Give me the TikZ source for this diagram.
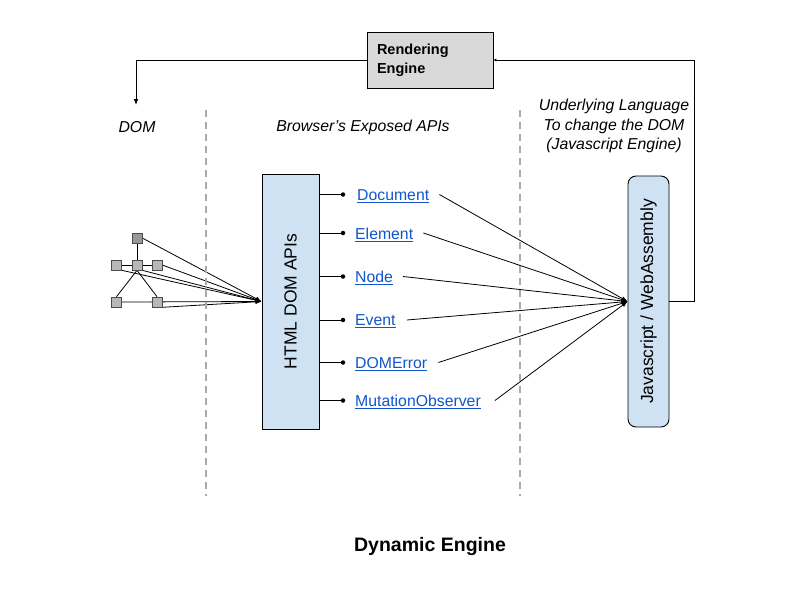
\documentclass[tikz,border=0pt]{standalone}
\usepackage{fontspec}
\setmainfont{Liberation Sans}
\usetikzlibrary{arrows.meta,backgrounds,calc}
\definecolor{boxblue}{HTML}{CFE2F3}
\definecolor{linkblue}{HTML}{1155CC}
\definecolor{regray}{HTML}{D9D9D9}
\definecolor{sqgray}{HTML}{B7B7B7}
\definecolor{sqdark}{HTML}{999999}
\definecolor{dashgray}{HTML}{AAAAAA}
\tikzset{
  tip/.style={-{Latex[length=6pt,width=4.5pt]}},
  smalltip/.style={-{Latex[length=3pt,width=3pt]}},
  apibox/.style={draw=black, line width=0.9pt, fill=boxblue, minimum width=57, minimum height=255, inner sep=0},
  jsbox/.style={draw=black, line width=0.9pt, fill=boxblue, rounded corners=8, minimum width=41, minimum height=251, inner sep=0},
  rebox/.style={draw=black, line width=0.9pt, fill=regray, minimum width=126, minimum height=56, inner sep=0,
    text width=106, align=left, font=\fontsize{14.5}{19}\selectfont\bfseries},
  sq/.style={draw=black!70, line width=0.6pt, fill=sqgray, minimum size=10, inner sep=0},
  sqd/.style={sq, fill=sqdark},
  lnk/.style={anchor=west, inner sep=0, text=linkblue, font=\fontsize{15.8}{18}\selectfont},
  lbl/.style={inner sep=0, font=\fontsize{15.8}{19.5}\selectfont\itshape, align=center},
  sep/.style={dashgray, line width=2pt, dash pattern=on 7pt off 5pt},
  bul/.style={circle, fill=black, inner sep=0, minimum size=4.5},
  conn/.style={line width=0.8pt},
}
\begin{document}
\begin{tikzpicture}[x=1pt,y=-1pt]
\useasboundingbox (0,0) rectangle (800,600);

% separators
\draw[sep] (206,110) -- (206,496);
\draw[sep] (520,110) -- (520,496);

% labels
\node[lbl] (domlbl) at (137,127) {DOM};
\node[lbl] (apilbl) at (363,127) {Browser’s Exposed APIs};
\node[lbl] (langlbl) at (614,126) {Underlying Language\\To change the DOM\\(Javascript Engine)};
\node[inner sep=0, font=\fontsize{19.5}{22}\selectfont\bfseries] (title) at (430,546) {Dynamic Engine};

% main boxes
\node[rebox] (re) at (430,60) {Rendering\\Engine};
\node[apibox] (html) at (290.5,301.5) {};
\node[rotate=90, inner sep=0, font=\fontsize{17.5}{20}\selectfont] (htmltxt) at (html.center) {HTML DOM APIs};
\node[jsbox] (js) at (648.5,301.5) {};
\node[rotate=90, inner sep=0, font=\fontsize{17.5}{20}\selectfont] (jstxt) at (js.center) {Javascript / WebAssembly};

% DOM tree
\node[sqd] (t0) at (137,238) {};
\node[sq] (t1) at (116.5,265) {};
\node[sq] (t2) at (137,265) {};
\node[sq] (t3) at (157,265) {};
\node[sq] (t4) at (116.5,302) {};
\node[sq] (t5) at (157,302) {};

\begin{scope}[on background layer]
  \draw[conn] (t0) -- (t2);
  \draw[conn] (t1) -- (t2) -- (t3);
  \draw[conn] (t2.south) -- (t4.north);
  \draw[conn] (t2.south) -- (t5.north);
  \draw[conn,tip] (t0.east) -- (html.west);
  \draw[conn,tip] (t3.east) -- (html.west);
  \draw[conn,tip] (t1.south east) -- (html.west);
  \draw[conn,tip] (t2.south east) -- (html.west);
  \draw[conn,tip] (t4.east) -- (html.west);
  \draw[conn,tip] (t5.south east) -- (html.west);
\end{scope}

% API links
\node[lnk] (l1) at (357,196) {\underline{Document}};
\node[lnk] (l2) at (355,234.5) {\underline{Element}};
\node[lnk] (l3) at (355,278) {\underline{Node}};
\node[lnk] (l4) at (355,321.5) {\underline{Event}};
\node[lnk] (l5) at (355,364) {\underline{DOMError}};
\node[lnk] (l6) at (355,402) {\underline{MutationObserver}};

\foreach \i/\y in {1/194.5,2/233,3/276.5,4/320,5/362.5,6/400.5} {
  \node[bul] (b\i) at (343,\y) {};
  \draw[conn] (html.east |- b\i) -- (b\i.center);
}

\draw[conn,tip] ([xshift=10,yshift=1.5]l1.east) -- (js.west);
\draw[conn,tip] ([xshift=10,yshift=1.5]l2.east) -- (js.west);
\draw[conn,tip] ([xshift=10,yshift=1.5]l3.east) -- (js.west);
\draw[conn,tip] ([xshift=11,yshift=1.5]l4.east) -- (js.west);
\draw[conn,tip] ([xshift=11,yshift=1.5]l5.east) -- (js.west);
\draw[conn,tip] ([xshift=14,yshift=1.5]l6.east) -- (js.west);

% feedback loop
\coordinate (domin) at (136,105);
\draw[conn,tip] (re.west) -| (domin);
\draw[conn,smalltip] (js.east) -- ++(25,0) |- (re.east);
\end{tikzpicture}
\end{document}
